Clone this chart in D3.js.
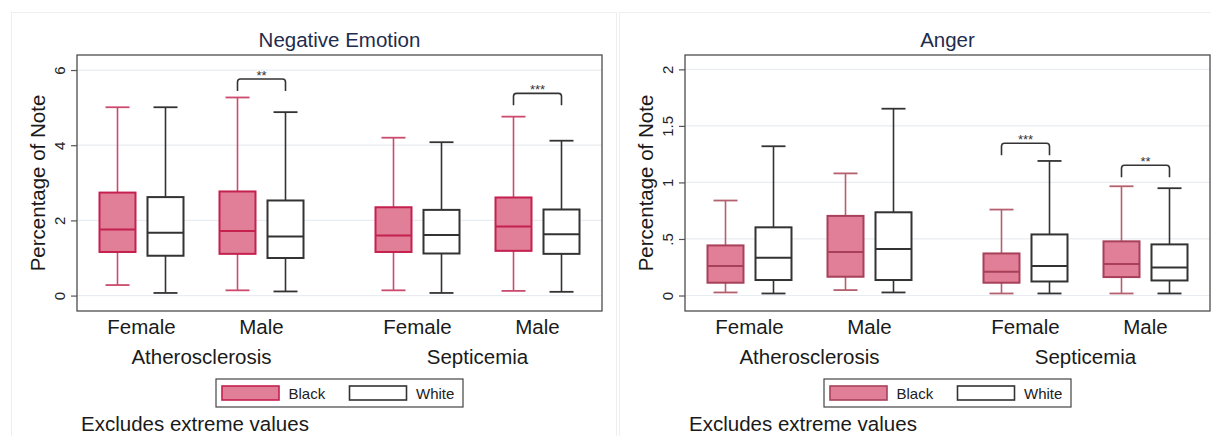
<!DOCTYPE html>
<html>
<head>
<meta charset="utf-8">
<script src="https://cdn.jsdelivr.net/npm/d3@7"></script>
<style>
  html, body { margin: 0; padding: 0; background: #ffffff; }
  svg { display: block; font-family: "Liberation Sans", Arial, Helvetica, sans-serif; }
</style>
</head>
<body>
<svg id="chart" width="1211" height="436"></svg>
<script>
// ---------------- DATA ----------------
const diseases = ["Atherosclerosis", "Septicemia"];
const sexes = ["Female", "Male"];
const races = ["Black", "White"];
// order of boxes: Athero-F-Black, Athero-F-White, Athero-M-Black, Athero-M-White,
//                 Septi-F-Black,  Septi-F-White,  Septi-M-Black,  Septi-M-White

// Negative Emotion
const negTitle = "Negative Emotion";
const negLow  = [0.28, 0.07, 0.14, 0.11, 0.14, 0.07, 0.125, 0.10];
const negQ1   = [1.16, 1.06, 1.11, 1.00, 1.16, 1.12, 1.19, 1.11];
const negMed  = [1.755, 1.67, 1.72, 1.57, 1.60, 1.61, 1.835, 1.63];
const negQ3   = [2.74, 2.62, 2.77, 2.53, 2.35, 2.28, 2.61, 2.29];
const negHigh = [5.01, 5.01, 5.27, 4.88, 4.20, 4.08, 4.76, 4.12];
const negTicks = [0, 2, 4, 6];
const negTickLabels = ["0", "2", "4", "6"];
const negDomain = [-0.41, 6.4];
const negSig = [
  { disease: "Atherosclerosis", sex: "Male", label: "**", top: 5.76 },
  { disease: "Septicemia", sex: "Male", label: "***", top: 5.38 }
];

// Anger
const angTitle = "Anger";
const angLow  = [0.027, 0.018, 0.048, 0.027, 0.018, 0.018, 0.018, 0.018];
const angQ1   = [0.113, 0.137, 0.166, 0.137, 0.113, 0.124, 0.163, 0.133];
const angMed  = [0.26, 0.334, 0.385, 0.411, 0.21, 0.26, 0.278, 0.248];
const angQ3   = [0.443, 0.603, 0.704, 0.736, 0.372, 0.54, 0.479, 0.452];
const angHigh = [0.84, 1.32, 1.08, 1.652, 0.76, 1.19, 0.966, 0.949];
const angTicks = [0, 0.5, 1, 1.5, 2];
const angTickLabels = ["0", ".5", "1", "1.5", "2"];
const angDomain = [-0.137, 2.127];
const angSig = [
  { disease: "Septicemia", sex: "Female", label: "***", top: 1.347 },
  { disease: "Septicemia", sex: "Male", label: "**", top: 1.152 }
];

const yTitle = "Percentage of Note";
const note = "Excludes extreme values";

// ---------------- DRAW ----------------
const svg = d3.select("#chart");
const FONT_BIG = 20.5;

function buildBoxes(low, q1, med, q3, high) {
  const out = [];
  let i = 0;
  diseases.forEach(d => sexes.forEach(s => races.forEach(r => {
    out.push({ disease: d, sex: s, race: r, low: low[i], q1: q1[i], med: med[i], q3: q3[i], high: high[i] });
    i++;
  })));
  return out;
}

function drawPanel(opts) {
  const { offsetX, title, boxes, ticks, tickLabels, domain, sig, colors } = opts;
  const g = svg.append("g").attr("transform", `translate(${offsetX},0)`);

  // faint outer graph border
  g.append("rect")
    .attr("x", 11.5).attr("y", 12.5).attr("width", 605).attr("height", 450)
    .attr("fill", "#ffffff").attr("stroke", "#efefef").attr("stroke-width", 1);

  const left = 77, right = 602, top = 55, bottom = 311;

  const y = d3.scaleLinear().domain(domain).range([bottom, top]);
  const xDisease = d3.scaleBand().domain(diseases).range([left, right])
    .paddingInner(0.13043).paddingOuter(0.0163);
  const xSex = d3.scaleBand().domain(sexes).range([0, xDisease.bandwidth()]).padding(0);
  const xRace = d3.scaleBand().domain(races).range([0, xSex.bandwidth()])
    .paddingInner(0.25).paddingOuter(0.375);

  const boxX = d => xDisease(d.disease) + xSex(d.sex) + xRace(d.race);
  const bw = xRace.bandwidth();
  const cx = d => boxX(d) + bw / 2;

  // gridlines
  g.append("g").selectAll("line").data(ticks).join("line")
    .attr("x1", left).attr("x2", right)
    .attr("y1", d => y(d)).attr("y2", d => y(d))
    .attr("stroke", "#e9edf1").attr("stroke-width", 1.2);

  // y axis ticks + labels
  const axis = d3.axisLeft(y).tickValues(ticks).tickSize(6).tickPadding(0)
    .tickFormat((d, i) => tickLabels[i]);
  const ax = g.append("g").attr("transform", `translate(${left},0)`).call(axis);
  ax.select(".domain").remove();
  ax.selectAll(".tick line").attr("stroke", "#555").attr("stroke-width", 1.2);
  ax.selectAll(".tick text")
    .attr("x", null).attr("dy", null)
    .attr("transform", "translate(-12,0) rotate(-90)")
    .attr("text-anchor", "middle")
    .attr("font-size", 15).attr("fill", "#222");

  // y title
  g.append("text")
    .attr("transform", `translate(${left - 32},${(top + bottom) / 2}) rotate(-90)`)
    .attr("text-anchor", "middle").attr("font-size", FONT_BIG).attr("fill", "#1a1a1a")
    .text(yTitle);

  // title
  g.append("text")
    .attr("x", (left + right) / 2).attr("y", 47)
    .attr("text-anchor", "middle").attr("font-size", FONT_BIG).attr("fill", "#1f2c4d")
    .text(title);

  // boxes
  const bg = g.append("g").selectAll("g").data(boxes).join("g");
  const capW = bw * 2 / 3;
  const isB = d => d.race === "Black";
  const strokeOf = d => isB(d) ? colors.border : "#333333";
  const whiskOf = d => isB(d) ? colors.whisker : "#333333";

  // whisker stems
  bg.append("line")
    .attr("x1", cx).attr("x2", cx).attr("y1", d => y(d.q3)).attr("y2", d => y(d.high))
    .attr("stroke", whiskOf).attr("stroke-width", 1.6);
  bg.append("line")
    .attr("x1", cx).attr("x2", cx).attr("y1", d => y(d.q1)).attr("y2", d => y(d.low))
    .attr("stroke", whiskOf).attr("stroke-width", 1.6);
  // caps
  bg.append("line")
    .attr("x1", d => cx(d) - capW / 2).attr("x2", d => cx(d) + capW / 2)
    .attr("y1", d => y(d.high)).attr("y2", d => y(d.high))
    .attr("stroke", whiskOf).attr("stroke-width", 1.8);
  bg.append("line")
    .attr("x1", d => cx(d) - capW / 2).attr("x2", d => cx(d) + capW / 2)
    .attr("y1", d => y(d.low)).attr("y2", d => y(d.low))
    .attr("stroke", whiskOf).attr("stroke-width", 1.8);
  // box
  bg.append("rect")
    .attr("x", boxX).attr("width", bw)
    .attr("y", d => y(d.q3)).attr("height", d => y(d.q1) - y(d.q3))
    .attr("fill", d => isB(d) ? colors.fill : "#ffffff")
    .attr("stroke", strokeOf).attr("stroke-width", 2);
  // median
  bg.append("line")
    .attr("x1", boxX).attr("x2", d => boxX(d) + bw)
    .attr("y1", d => y(d.med)).attr("y2", d => y(d.med))
    .attr("stroke", strokeOf).attr("stroke-width", 2);

  // significance brackets
  const sg = g.append("g").selectAll("g").data(sig).join("g");
  const legDrop = 12, r = 3;
  sg.append("path")
    .attr("d", d => {
      const x1 = xDisease(d.disease) + xSex(d.sex) + xRace("Black") + bw / 2;
      const x2 = xDisease(d.disease) + xSex(d.sex) + xRace("White") + bw / 2;
      const yt = y(d.top);
      return `M${x1},${yt + legDrop} L${x1},${yt + r} Q${x1},${yt} ${x1 + r},${yt} ` +
             `L${x2 - r},${yt} Q${x2},${yt} ${x2},${yt + r} L${x2},${yt + legDrop}`;
    })
    .attr("fill", "none").attr("stroke", "#333").attr("stroke-width", 1.6);
  sg.append("text")
    .attr("x", d => xDisease(d.disease) + xSex(d.sex) + xSex.bandwidth() / 2)
    .attr("y", d => y(d.top) + 1)
    .attr("text-anchor", "middle").attr("font-size", 13).attr("fill", "#333")
    .text(d => d.label);

  // plot frame
  g.append("rect")
    .attr("x", left).attr("y", top).attr("width", right - left).attr("height", bottom - top)
    .attr("fill", "none").attr("stroke", "#4d4d4d").attr("stroke-width", 1.3);

  // sex labels
  const lab = [];
  diseases.forEach(d => sexes.forEach(s => lab.push({ disease: d, sex: s })));
  g.append("g").selectAll("text").data(lab).join("text")
    .attr("x", d => xDisease(d.disease) + xSex(d.sex) + xSex.bandwidth() / 2)
    .attr("y", 334)
    .attr("text-anchor", "middle").attr("font-size", FONT_BIG).attr("fill", "#1a1a1a")
    .text(d => d.sex);
  // disease labels
  g.append("g").selectAll("text").data(diseases).join("text")
    .attr("x", d => xDisease(d) + xDisease.bandwidth() / 2)
    .attr("y", 364)
    .attr("text-anchor", "middle").attr("font-size", FONT_BIG).attr("fill", "#1a1a1a")
    .text(d => d);

  // legend
  const lg = g.append("g");
  const lx = (left + right) / 2 - 123.5;
  lg.append("rect").attr("x", lx).attr("y", 379).attr("width", 247).attr("height", 28)
    .attr("fill", "#fff").attr("stroke", "#444").attr("stroke-width", 1.2);
  const items = races.map((rc, i) => ({ race: rc, i }));
  const li = lg.selectAll("g").data(items).join("g")
    .attr("transform", d => `translate(${lx + 6 + d.i * 127.5},0)`);
  li.append("rect").attr("x", 0).attr("y", 386).attr("width", 57).attr("height", 14)
    .attr("fill", d => d.race === "Black" ? colors.fill : "#fff")
    .attr("stroke", d => d.race === "Black" ? colors.border : "#333").attr("stroke-width", 1.6);
  li.append("text").attr("x", 66.5).attr("y", 399)
    .attr("font-size", 15).attr("fill", "#222").text(d => d.race);

  // note
  g.append("text").attr("x", 81).attr("y", 431)
    .attr("font-size", FONT_BIG).attr("fill", "#1a1a1a").text(note);
}

drawPanel({
  offsetX: 0, title: negTitle,
  boxes: buildBoxes(negLow, negQ1, negMed, negQ3, negHigh),
  ticks: negTicks, tickLabels: negTickLabels, domain: negDomain, sig: negSig,
  colors: { fill: "#e07f97", border: "#c5214f", whisker: "#cc4a6e" }
});
drawPanel({
  offsetX: 608, title: angTitle,
  boxes: buildBoxes(angLow, angQ1, angMed, angQ3, angHigh),
  ticks: angTicks, tickLabels: angTickLabels, domain: angDomain, sig: angSig,
  colors: { fill: "#e07f97", border: "#a8405a", whisker: "#b5606f" }
});
</script>
</body>
</html>
